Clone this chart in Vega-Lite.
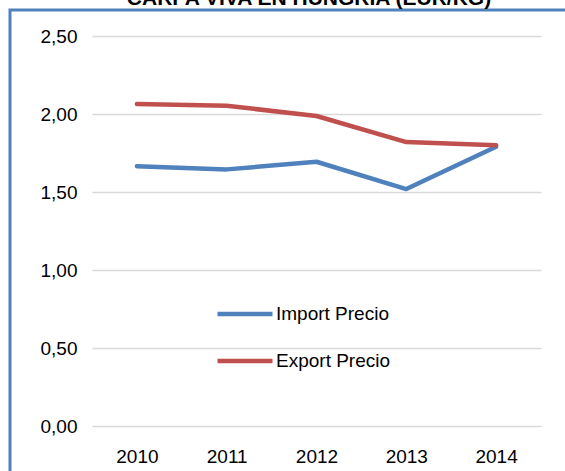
{
  "$schema": "https://vega.github.io/schema/vega-lite/v6.json",
  "width": 560,
  "height": 466,
  "autosize": {"type": "none"},
  "padding": {"left": 10, "top": 10, "right": -5, "bottom": -5},
  "background": "white",
  "title": {
    "text": "CARPA VIVA EN HUNGRIA (EUR/KG)",
    "font": "Liberation Sans",
    "fontSize": 21,
    "fontWeight": "bold",
    "color": "#000000",
    "anchor": "middle",
    "baseline": "alphabetic",
    "offset": -16,
    "dx": 19
  },
  "config": {
    "font": "Liberation Sans",
    "view": {"stroke": "#4F81BD", "strokeWidth": 3},
    "axis": {
      "labelFont": "Liberation Sans",
      "labelFontSize": 19,
      "labelColor": "#000000",
      "ticks": false,
      "domain": false,
      "title": null,
      "labelPadding": 0
    },
    "legend": {"padding": 0}
  },
  "data": {
    "values": [
      {"year": "2010", "serie": "Import Precio", "precio": 1.665},
      {"year": "2011", "serie": "Import Precio", "precio": 1.645},
      {"year": "2012", "serie": "Import Precio", "precio": 1.694},
      {"year": "2013", "serie": "Import Precio", "precio": 1.519},
      {"year": "2014", "serie": "Import Precio", "precio": 1.79},
      {"year": "2010", "serie": "Export Precio", "precio": 2.064},
      {"year": "2011", "serie": "Export Precio", "precio": 2.053},
      {"year": "2012", "serie": "Export Precio", "precio": 1.987},
      {"year": "2013", "serie": "Export Precio", "precio": 1.82},
      {"year": "2014", "serie": "Export Precio", "precio": 1.8}
    ]
  },
  "mark": {"type": "line", "strokeWidth": 4.5, "strokeCap": "round", "strokeJoin": "round"},
  "encoding": {
    "x": {
      "field": "year",
      "type": "ordinal",
      "scale": {"type": "point", "padding": 0.5, "range": [82, 531]},
      "axis": {"labelAngle": 0, "grid": false, "offset": -29}
    },
    "y": {
      "field": "precio",
      "type": "quantitative",
      "scale": {"domain": [0, 2.5], "range": [416, 26], "nice": false, "zero": true},
      "axis": {
        "values": [0, 0.5, 1, 1.5, 2, 2.5],
        "format": ".2f",
        "labelExpr": "replace(format(datum.value, '.2f'), '.', ',')",
        "grid": true,
        "gridColor": "#D9D9D9",
        "gridWidth": 1.5,
        "offset": -67
      }
    },
    "color": {
      "field": "serie",
      "type": "nominal",
      "scale": {"domain": ["Import Precio", "Export Precio"], "range": ["#4F81BD", "#C0504D"]},
      "legend": {
        "title": null,
        "orient": "none",
        "legendX": 205,
        "legendY": 274,
        "symbolType": "stroke",
        "symbolSize": 3025,
        "symbolStrokeWidth": 4.5,
        "labelFont": "Liberation Sans",
        "labelFontSize": 19,
        "labelColor": "#000000",
        "labelOffset": 1,
        "rowPadding": 7
      }
    }
  }
}
